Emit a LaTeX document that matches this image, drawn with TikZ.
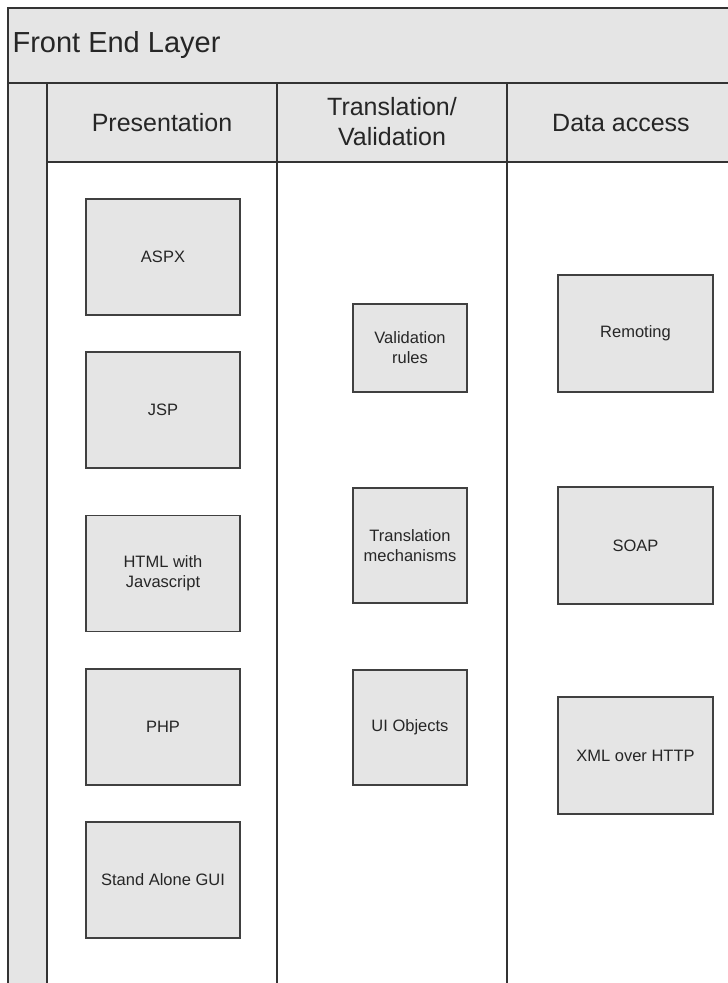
\documentclass[tikz,border=0pt]{standalone}
\usepackage{fontspec}
\setmainfont{Liberation Sans}
\usetikzlibrary{positioning}

\begin{document}
\begin{tikzpicture}[x=1pt,y=-1pt]
\tikzset{
  lanefill/.style={fill=black!10,draw=none},
  laneline/.style={draw=black!80,line width=1.8pt,line cap=rect},
  compbox/.style={rectangle,draw=black!75,line width=1.3pt,fill=black!10,align=center,inner sep=2pt,font=\fontsize{16.5}{20}\selectfont,text=black!85},
  presbox/.style={compbox,minimum width=154pt,minimum height=116pt},
  transbox/.style={compbox,minimum width=114pt,minimum height=115pt},
  databox/.style={compbox,minimum width=155pt,minimum height=117pt},
  lanehead/.style={align=center,font=\fontsize{25}{30}\selectfont,text=black!85},
  layerhead/.style={anchor=west,font=\fontsize{29}{34}\selectfont,text=black!85}
}
\useasboundingbox (0,0) rectangle (728,983);
% shaded bands
\path[lanefill] (8,8) rectangle (728,83);
\path[lanefill] (8,83) rectangle (47,983);
\path[lanefill] (47,83) rectangle (728,162);
% lane borders
\draw[laneline] (728,8) -- (8,8) -- (8,983);
\draw[laneline] (8,83) -- (728,83);
\draw[laneline] (47,162) -- (728,162);
\draw[laneline] (47,83) -- (47,983);
\draw[laneline] (277,83) -- (277,983);
\draw[laneline] (507,83) -- (507,983);
% headings
\node[layerhead] (n_front) at (9,45) {Front End Layer};
\node[lanehead] (n_pres) at (162,123) {Presentation};
\node[lanehead] (n_trans) at (392,122) {Translation/\\Validation};
\node[lanehead] (n_data) at (621,123) {Data access};
% presentation
\node[presbox] (n_aspx) at (163,257) {ASPX};
\node[presbox] (n_jsp) at (163,410) {JSP};
\node[presbox] (n_html) at (163,573.5) {HTML with\\Javascript};
\node[presbox] (n_php) at (163,727) {PHP};
\node[presbox] (n_gui) at (163,880) {Stand Alone GUI};
% translation / validation
\node[transbox,minimum height=88pt] (n_valid) at (410,348) {Validation\\rules};
\node[transbox] (n_mech) at (410,545.5) {Translation\\mechanisms};
\node[transbox] (n_uiobj) at (410,727.5) {UI Objects};
% data access
\node[databox] (n_remote) at (635.5,333.5) {Remoting};
\node[databox] (n_soap) at (635.5,545.5) {SOAP};
\node[databox] (n_xml) at (635.5,755.5) {XML over HTTP};
\end{tikzpicture}
\end{document}
